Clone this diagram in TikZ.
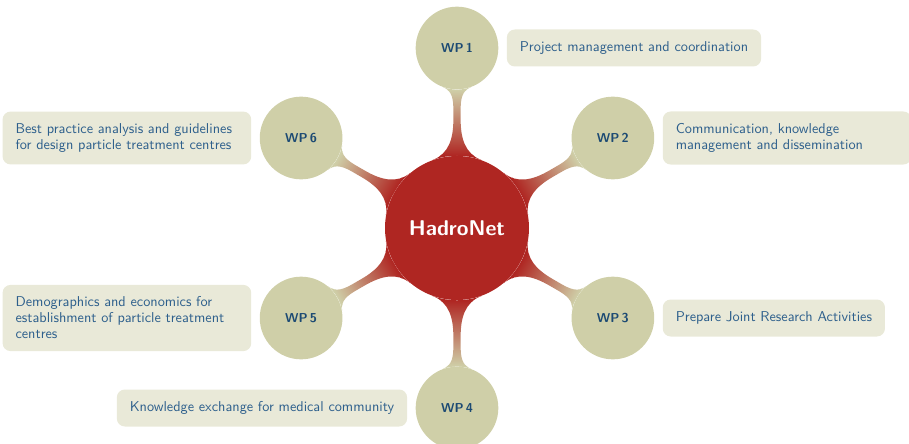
\documentclass[tikz,border=0pt]{standalone}
\usepackage{tikz}
\usetikzlibrary{mindmap,positioning}
\definecolor{hubred}{RGB}{175,38,34}
\definecolor{wpbeige}{RGB}{207,207,168}
\definecolor{notefill}{RGB}{233,233,216}
\definecolor{notetext}{RGB}{45,95,140}
\definecolor{wptext}{RGB}{28,74,115}
\newcommand{\nohyph}{\hyphenpenalty 10000\exhyphenpenalty 10000\relax}

\begin{document}
\begin{tikzpicture}[x=0.75pt,y=0.75pt,font=\sffamily,
	hub node/.style={circle,fill=hubred,text=white,minimum size=108pt,inner sep=0pt,font=\sffamily\bfseries\fontsize{16}{19}\selectfont},
	wp node/.style={circle,fill=wpbeige,text=wptext,minimum size=62pt,inner sep=0pt,font=\sffamily\bfseries\fontsize{9.7}{11}\selectfont},
	note/.style={rounded corners=6pt,fill=notefill,text=notetext,inner xsep=9.75pt,inner ysep=9pt,minimum height=27.75pt,align=flush left,
		font=\sffamily\fontsize{10.7}{12}\selectfont\nohyph},
	wide note/.style={note,text width=167pt},
	bar/.style={circle connection bar switch color=from (hubred) to (wpbeige),line width=7pt}]
	\useasboundingbox (-457,-215) rectangle (452,228);
	\node[hub node] (hub) at (0,0) {HadroNet};
	\node[wp node] (wp1) at (90:180) {WP\,1};
	\node[wp node] (wp2) at (30:180) {WP\,2};
	\node[wp node] (wp3) at (-30:180) {WP\,3};
	\node[wp node] (wp4) at (-90:180) {WP\,4};
	\node[wp node] (wp5) at (-150:180) {WP\,5};
	\node[wp node] (wp6) at (150:180) {WP\,6};
	\node[note] (n1) [right=6pt of wp1] {Project management and coordination};
	\node[wide note] (n2) [right=6pt of wp2] {Communication, knowledge management and dissemination};
	\node[note] (n3) [right=6pt of wp3] {Prepare Joint Research Activities};
	\node[note] (n4) [left=6pt of wp4] {Knowledge exchange for medical community};
	\node[wide note] (n5) [left=6pt of wp5] {Demographics and economics for establishment of particle treatment centres};
	\node[wide note] (n6) [left=6pt of wp6] {Best practice analysis and guidelines for design particle treatment centres};
	\path (hub) to[bar] (wp1);
	\path (hub) to[bar] (wp2);
	\path (hub) to[bar] (wp3);
	\path (hub) to[bar] (wp4);
	\path (hub) to[bar] (wp5);
	\path (hub) to[bar] (wp6);
\end{tikzpicture}
\end{document}
